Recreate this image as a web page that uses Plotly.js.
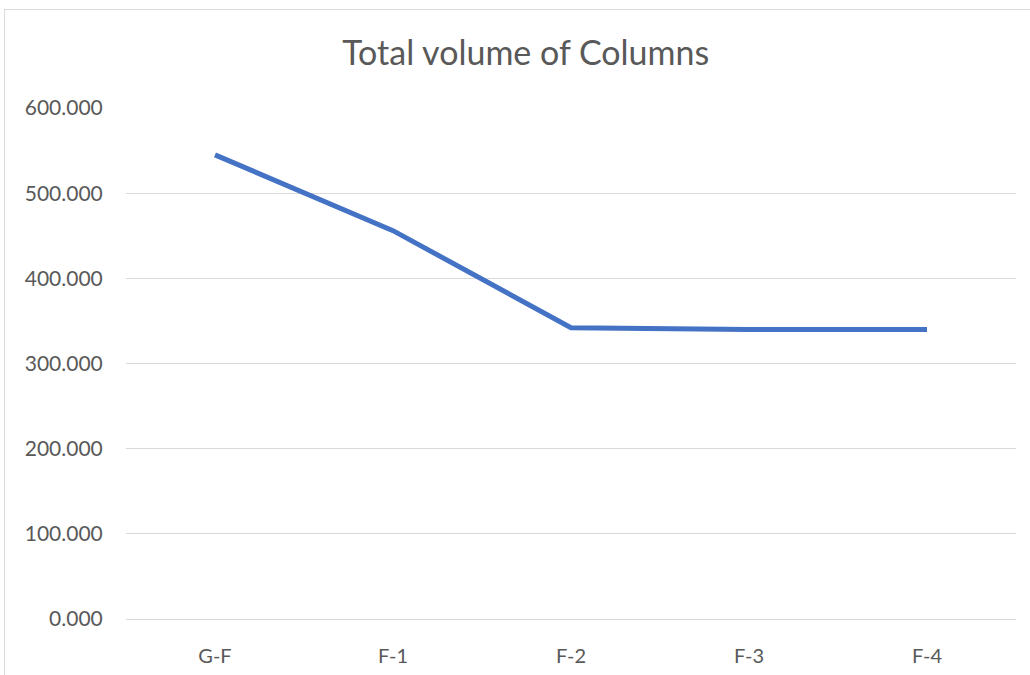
<!DOCTYPE html>
<html>
<head>
<meta charset="utf-8">
<script src="https://cdn.plot.ly/plotly-3.0.1.min.js"></script>
<style>
html, body { margin: 0; padding: 0; background: #fff; }
#frame { position: absolute; left: 4px; top: 9px; width: 1030px; height: 670px; border-left: 1px solid #d9d9d9; border-top: 1px solid #d9d9d9; }
#chart { position: absolute; left: 0; top: 0; width: 1025px; height: 665px; }
</style>
</head>
<body>
<div id="frame"><div id="chart"></div></div>
<script>
const categories = ["G-F", "F-1", "F-2", "F-3", "F-4"];
const totalVolume = [545, 456, 342, 340, 340];
const yTicks = [0, 100, 200, 300, 400, 500, 600];

const trace = {
  x: categories,
  y: totalVolume,
  type: 'scatter',
  mode: 'lines',
  line: { color: '#4472C4', width: 5, shape: 'linear' },
  hoverinfo: 'x+y'
};

const layout = {
  width: 1025,
  height: 665,
  margin: { l: 121, r: 14, t: 98, b: 56 },
  paper_bgcolor: '#ffffff',
  plot_bgcolor: '#ffffff',
  showlegend: false,
  font: { family: 'Lato, "Open Sans", sans-serif', color: '#595959', size: 20 },
  title: {
    text: 'Total volume of Columns',
    font: { family: 'Lato, "Open Sans", sans-serif', size: 34, color: '#595959' },
    x: 0.508, xref: 'container', xanchor: 'center',
    y: 0.935, yref: 'container', yanchor: 'middle'
  },
  xaxis: {
    type: 'category',
    range: [-0.5, 4.5],
    showgrid: false,
    zeroline: false,
    showline: false,
    ticks: 'outside',
    ticklen: 19,
    tickcolor: 'rgba(0,0,0,0)',
    tickfont: { size: 20, color: '#595959' },
    fixedrange: true
  },
  yaxis: {
    range: [0, 600],
    tickvals: yTicks,
    ticktext: yTicks.map(v => v.toFixed(3)),
    showgrid: true,
    gridcolor: '#d9d9d9',
    gridwidth: 1,
    zeroline: true,
    zerolinecolor: '#d9d9d9',
    zerolinewidth: 1,
    showline: false,
    ticks: 'outside',
    ticklen: 18,
    tickcolor: 'rgba(0,0,0,0)',
    tickfont: { size: 21, color: '#595959' },
    fixedrange: true
  }
};

Plotly.newPlot('chart', [trace], layout, { displayModeBar: false, staticPlot: true });
</script>
</body>
</html>
